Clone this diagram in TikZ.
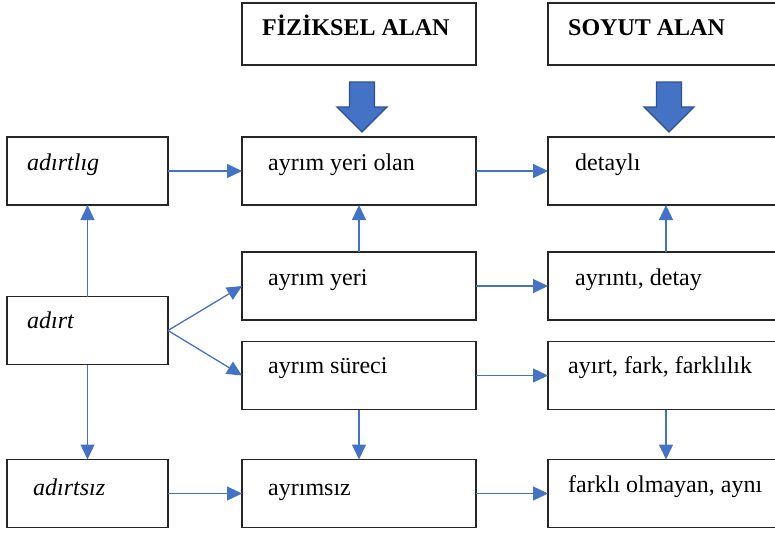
\documentclass[tikz,border=0pt]{standalone}
\usepackage{fontspec}
\setmainfont{Liberation Serif}
\usetikzlibrary{arrows.meta,calc}
\definecolor{linkblue}{HTML}{4472C4}
\definecolor{arrowedge}{HTML}{2F528F}
\begin{document}
\begin{tikzpicture}[x=1pt,y=-1pt,
  box/.style={draw=black!85, line width=1.3pt, inner sep=0pt, outer sep=0pt, fill=white},
  leftbox/.style={box, minimum width=161pt, minimum height=68pt},
  midbox/.style={box, minimum width=234pt, minimum height=68pt},
  rightbox/.style={box, minimum width=236pt, minimum height=68pt},
  headbox/.style={box, minimum height=62pt},
  lbl/.style={anchor=base west, inner sep=0pt, font=\fontsize{24}{28}\selectfont},
  ilbl/.style={lbl, font=\fontsize{24}{28}\selectfont\itshape},
  hlbl/.style={lbl, font=\fontsize{24}{28}\selectfont\bfseries},
  link/.style={draw=linkblue, line width=1.3pt, -{Triangle[length=15pt,width=14pt]}},
  bigarrow/.style={fill=linkblue, draw=arrowedge, line width=1.3pt, line join=miter}
]
\useasboundingbox (0,0) rectangle (775,533);
\clip (0,0) rectangle (775,533);

% header boxes
\node[headbox, minimum width=234pt] (fiz) at (359,34) {};
\node[headbox, minimum width=236pt] (soy) at (666,34) {};

% left column
\node[leftbox] (adirtlig) at (87.5,171) {};
\node[leftbox] (adirt) at (87.5,330.5) {};
\node[leftbox] (adirtsiz) at (87.5,493.5) {};

% middle column
\node[midbox] (yeriolan) at (359,171) {};
\node[midbox] (yeri) at (359,286) {};
\node[midbox] (sureci) at (359,375.5) {};
\node[midbox] (ayrimsiz) at (359,493.5) {};

% right column
\node[rightbox] (detayli) at (666,171) {};
\node[rightbox] (ayrinti) at (666,286) {};
\node[rightbox] (ayirt) at (666,375.5) {};
\node[rightbox] (farkli) at (666,493.5) {};

% labels
\node[hlbl] (tfiz) at (262,35) {FİZİKSEL ALAN};
\node[hlbl] (tsoy) at (568,35) {SOYUT ALAN};
\node[ilbl] (tadirtlig) at (27,170) {adırtlıg};
\node[ilbl] (tadirt) at (27,328) {adırt};
\node[ilbl] (tadirtsiz) at (33,495) {adırtsız};
\node[lbl] (tyeriolan) at (268,170) {ayrım yeri olan};
\node[lbl] (tyeri) at (268,285) {ayrım yeri};
\node[lbl] (tsureci) at (268,373) {ayrım süreci};
\node[lbl] (tayrimsiz) at (268,495) {ayrımsız};
\node[lbl] (tdetayli) at (575,170) {detaylı};
\node[lbl] (tayrinti) at (575,285) {ayrıntı, detay};
\node[lbl] (tayirt) at (568,373) {ayırt, fark, farklılık};
\node[lbl] (tfarkli) at (568,492) {farklı olmayan, aynı};

% block arrows under the headers
\coordinate (fizarrow) at (362,82);
\coordinate (soyarrow) at (669,82);
\foreach \c in {fizarrow,soyarrow}{
  \draw[bigarrow] ($(\c)+(-12.5,0)$) -- ($(\c)+(12.5,0)$) -- ($(\c)+(12.5,25)$)
    -- ($(\c)+(25,25)$) -- ($(\c)+(0,50)$) -- ($(\c)+(-25,25)$)
    -- ($(\c)+(-12.5,25)$) -- cycle;
}

% connectors
\draw[link] (adirtlig.east) -- (yeriolan.west);
\draw[link] (yeriolan.east) -- (detayli.west);
\draw[link] (adirt.north) -- (adirtlig.south);
\draw[link] (adirt.south) -- (adirtsiz.north);
\draw[link] (adirt.east) -- (yeri.west);
\draw[link] (adirt.east) -- (sureci.west);
\draw[link] (yeri.north) -- (yeriolan.south);
\draw[link] (yeri.east) -- (ayrinti.west);
\draw[link] (sureci.east) -- (ayirt.west);
\draw[link] (sureci.south) -- (ayrimsiz.north);
\draw[link] (adirtsiz.east) -- (ayrimsiz.west);
\draw[link] (ayrimsiz.east) -- (farkli.west);
\draw[link] (ayrinti.north) -- (detayli.south);
\draw[link] (ayirt.south) -- (farkli.north);
\end{tikzpicture}
\end{document}
